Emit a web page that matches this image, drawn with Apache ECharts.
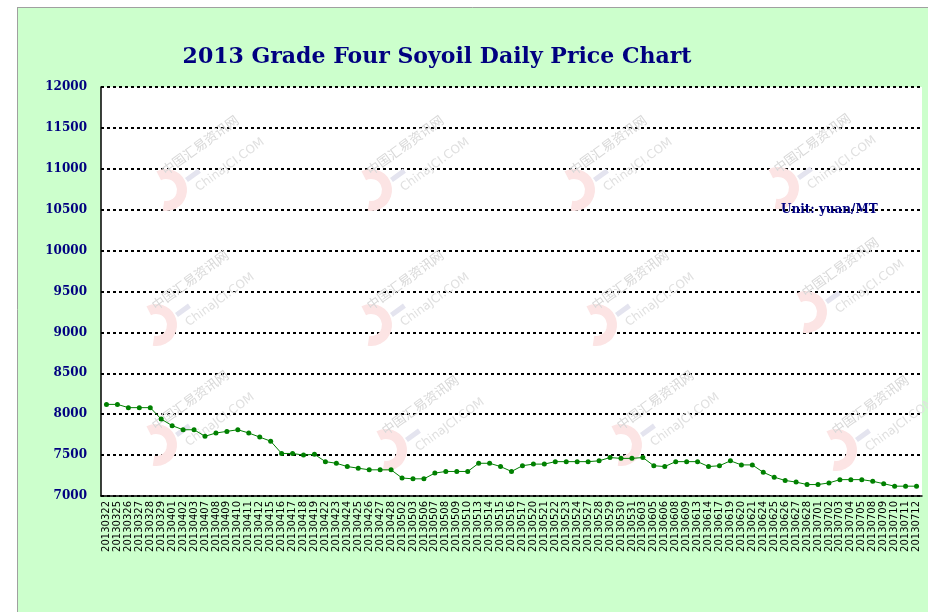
<!DOCTYPE html>
<html>
<head>
<meta charset="utf-8">
<script src="https://cdn.jsdelivr.net/npm/echarts@6/dist/echarts.min.js"></script>
<style>
  html, body { margin: 0; padding: 0; background: #fff; }
  #main { width: 928px; height: 612px; }
</style>
</head>
<body>
<div id="main"></div>
<script>
// trading days
var dates = ['20130322','20130325','20130326','20130327','20130328','20130329',
  '20130401','20130402','20130403','20130407','20130408','20130409','20130410','20130411','20130412',
  '20130415','20130416','20130417','20130418','20130419','20130422','20130423','20130424','20130425',
  '20130426','20130427','20130428',
  '20130502','20130503','20130506','20130507','20130508','20130509','20130510','20130513','20130514',
  '20130515','20130516','20130517','20130520','20130521','20130522','20130523','20130524','20130527',
  '20130528','20130529','20130530','20130531',
  '20130603','20130605','20130606','20130608','20130609','20130613','20130614','20130617','20130619',
  '20130620','20130621','20130624','20130625','20130626','20130627','20130628',
  '20130701','20130702','20130703','20130704','20130705','20130708','20130709','20130710','20130711','20130712'];

// yuan/MT
var prices = [8120,8120,8080,8080,8080,7940,7860,7810,7810,7730,7770,7790,7810,7770,7720,7670,7520,7520,7500,7510,7420,7400,7360,7340,7320,
  7320,7320,7220,7210,7210,7280,7300,7300,7300,7400,7400,7360,7300,7370,7390,7390,7420,7420,7420,7420,7430,7470,7460,7460,7470,
  7370,7360,7420,7420,7420,7360,7370,7430,7380,7380,7290,7230,7190,7170,7140,7140,7160,7200,7200,7200,7180,7150,7120,7120,7120];

var yMin = 7000, yMax = 12000, yStep = 500;

// faint watermark spots (pixel centres)
var marks = [[160,190],[365,190],[568,190],[772,188],[150,325],[365,325],[590,325],[800,312],[150,445],[380,450],[615,445],[830,450]];

var chart = echarts.init(document.getElementById('main'));

var graphics = [
  { type: 'rect', shape: { x: 0, y: 0, width: 928, height: 7 }, style: { fill: '#fff' }, silent: true },
  { type: 'rect', shape: { x: 0, y: 0, width: 17, height: 612 }, style: { fill: '#fff' }, silent: true },
  { type: 'line', shape: { x1: 17, y1: 7.5, x2: 928, y2: 7.5 }, style: { stroke: '#a0a0a0', lineWidth: 1 }, silent: true },
  { type: 'line', shape: { x1: 17.5, y1: 7, x2: 17.5, y2: 612 }, style: { stroke: '#a0a0a0', lineWidth: 1 }, silent: true }
];

marks.forEach(function (m) {
  graphics.push({
    type: 'arc', silent: true, z: 1,
    shape: { cx: m[0] + 6, cy: m[1], r: 16, startAngle: -Math.PI * 0.65, endAngle: Math.PI * 0.55 },
    style: { stroke: '#fce4e4', lineWidth: 10, fill: null }
  });
  graphics.push({
    type: 'text', silent: true, z: 1, x: m[0] + 40, y: m[1] - 45, rotation: Math.PI / 5,
    style: { text: '中国汇易资讯网', fill: '#d8d8d8', font: '13px "Noto Sans CJK SC"', align: 'center', verticalAlign: 'middle' }
  });
  graphics.push({
    type: 'text', silent: true, z: 1, x: m[0] + 70, y: m[1] - 25, rotation: Math.PI / 5,
    style: { text: 'ChinaJCI.COM', fill: '#e0e0e0', font: '12px "DejaVu Sans"', align: 'center', verticalAlign: 'middle' }
  });
  graphics.push({
    type: 'rect', silent: true, z: 1, x: m[0] + 25, y: m[1] - 12, rotation: Math.PI / 5,
    shape: { x: 0, y: 0, width: 16, height: 5 }, style: { fill: '#e4e4ef' }
  });
});

graphics.push({
  type: 'text', silent: true, z: 5, left: 781, top: 204,
  style: { text: 'Unit: yuan/MT', fill: '#000080', font: 'bold 12px "DejaVu Serif"' }
});

chart.setOption({
  backgroundColor: '#ccffcc',
  animation: false,
  title: {
    text: '2013 Grade Four Soyoil Daily Price Chart',
    left: 432, top: 41, textAlign: 'center',
    textStyle: { color: '#000080', fontFamily: 'DejaVu Serif', fontSize: 22, fontWeight: 'bold' }
  },
  graphic: graphics,
  grid: {
    left: 101, top: 87, right: 6, bottom: 116,
    show: true, backgroundColor: '#fff', borderWidth: 0
  },
  xAxis: {
    type: 'category',
    data: dates,
    boundaryGap: true,
    axisLine: { lineStyle: { color: '#000', width: 1.5 } },
    axisTick: { inside: true, length: 3, lineStyle: { color: '#000' } },
    axisLabel: {
      interval: 0, rotate: 90, margin: 5,
      color: '#000', fontFamily: 'DejaVu Sans', fontSize: 10
    },
    splitLine: { show: false }
  },
  yAxis: {
    type: 'value',
    min: yMin, max: yMax, interval: yStep,
    axisLine: { show: true, lineStyle: { color: '#000', width: 1.5 } },
    axisTick: { show: false },
    axisLabel: {
      margin: 14, color: '#000080', fontFamily: 'DejaVu Serif', fontSize: 12, fontWeight: 'bold',
      formatter: function (v) { return String(v); }
    },
    splitLine: { show: true, lineStyle: { color: '#000', width: 2, type: [3, 3] } }
  },
  series: [{
    type: 'line',
    data: prices,
    z: 10,
    symbol: 'circle',
    symbolSize: 5,
    itemStyle: { color: '#008000' },
    lineStyle: { color: '#008000', width: 1 }
  }]
});
</script>
</body>
</html>
